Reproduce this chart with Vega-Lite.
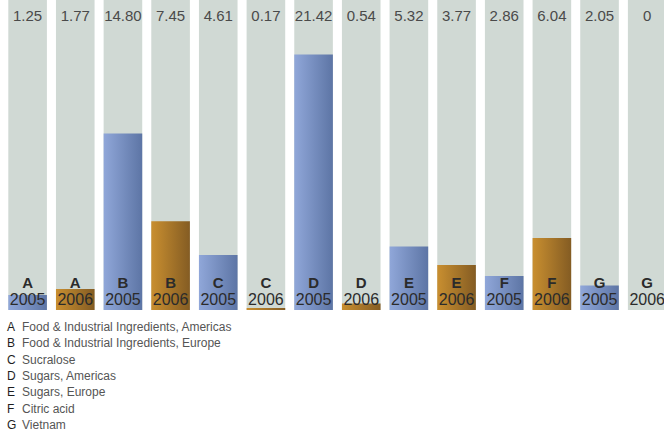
{
  "$schema": "https://vega.github.io/schema/vega-lite/v6.json",
  "width": 664,
  "height": 432,
  "padding": 0,
  "autosize": {"type": "none"},
  "config": {"view": {"stroke": null}, "font": "Liberation Sans"},
  "datasets": {
    "bars": [
      {"id": "A2005", "cat": "A", "year": 2005, "value": 1.25, "label": "1.25"},
      {"id": "A2006", "cat": "A", "year": 2006, "value": 1.77, "label": "1.77"},
      {"id": "B2005", "cat": "B", "year": 2005, "value": 14.80, "label": "14.80"},
      {"id": "B2006", "cat": "B", "year": 2006, "value": 7.45, "label": "7.45"},
      {"id": "C2005", "cat": "C", "year": 2005, "value": 4.61, "label": "4.61"},
      {"id": "C2006", "cat": "C", "year": 2006, "value": 0.17, "label": "0.17"},
      {"id": "D2005", "cat": "D", "year": 2005, "value": 21.42, "label": "21.42"},
      {"id": "D2006", "cat": "D", "year": 2006, "value": 0.54, "label": "0.54"},
      {"id": "E2005", "cat": "E", "year": 2005, "value": 5.32, "label": "5.32"},
      {"id": "E2006", "cat": "E", "year": 2006, "value": 3.77, "label": "3.77"},
      {"id": "F2005", "cat": "F", "year": 2005, "value": 2.86, "label": "2.86"},
      {"id": "F2006", "cat": "F", "year": 2006, "value": 6.04, "label": "6.04"},
      {"id": "G2005", "cat": "G", "year": 2005, "value": 2.05, "label": "2.05"},
      {"id": "G2006", "cat": "G", "year": 2006, "value": 0, "label": "0"}
    ],
    "legend": [
      {"letter": "A", "desc": "Food & Industrial Ingredients, Americas"},
      {"letter": "B", "desc": "Food & Industrial Ingredients, Europe"},
      {"letter": "C", "desc": "Sucralose"},
      {"letter": "D", "desc": "Sugars, Americas"},
      {"letter": "E", "desc": "Sugars, Europe"},
      {"letter": "F", "desc": "Citric acid"},
      {"letter": "G", "desc": "Vietnam"}
    ]
  },
  "layer": [
    {
      "data": {"name": "bars"},
      "encoding": {
        "x": {"field": "id", "type": "nominal", "sort": null, "axis": null,
              "scale": {"type": "band", "range": [8.3, 666.5], "paddingInner": 0.19, "paddingOuter": 0}}
      },
      "layer": [
        {
          "mark": {"type": "bar", "color": "#d0d9d4"},
          "encoding": {
            "y": {"datum": 26, "type": "quantitative", "axis": null, "scale": {"domain": [0, 26], "range": [310, 0]}},
            "y2": {"datum": 0}
          }
        },
        {
          "transform": [{"filter": "datum.year == 2005"}],
          "mark": {"type": "bar", "color": {"gradient": "linear", "x1": 0, "y1": 0, "x2": 1, "y2": 0,
            "stops": [{"offset": 0, "color": "#90a7d9"}, {"offset": 1, "color": "#5d75a5"}]}},
          "encoding": {"y": {"field": "value", "type": "quantitative"}}
        },
        {
          "transform": [{"filter": "datum.year == 2006"}],
          "mark": {"type": "bar", "color": {"gradient": "linear", "x1": 0, "y1": 0, "x2": 1, "y2": 0,
            "stops": [{"offset": 0, "color": "#c98f30"}, {"offset": 1, "color": "#845c23"}]}},
          "encoding": {"y": {"field": "value", "type": "quantitative"}}
        },
        {
          "mark": {"type": "text", "baseline": "middle", "fontSize": 15, "color": "#4a4a4a", "dy": 16},
          "encoding": {"y": {"datum": 26, "type": "quantitative"}, "text": {"field": "label"}}
        },
        {
          "mark": {"type": "text", "baseline": "middle", "fontSize": 15, "fontWeight": "bold", "color": "#2b2b2b", "dy": -27},
          "encoding": {"y": {"datum": 0, "type": "quantitative"}, "text": {"field": "cat"}}
        },
        {
          "mark": {"type": "text", "baseline": "middle", "fontSize": 16, "color": "#2b2b2b", "dy": -10},
          "encoding": {"y": {"datum": 0, "type": "quantitative"}, "text": {"field": "year"}}
        }
      ]
    },
    {
      "data": {"name": "legend"},
      "encoding": {
        "y": {"field": "letter", "type": "nominal", "sort": null, "axis": null,
              "scale": {"type": "band", "range": [318.85, 432.95], "paddingInner": 0, "paddingOuter": 0}}
      },
      "layer": [
        {
          "mark": {"type": "text", "align": "left", "baseline": "middle", "fontSize": 12, "color": "#1e1e1e"},
          "encoding": {"x": {"value": 7}, "text": {"field": "letter"}}
        },
        {
          "mark": {"type": "text", "align": "left", "baseline": "middle", "fontSize": 12, "color": "#555555"},
          "encoding": {"x": {"value": 22}, "text": {"field": "desc"}}
        }
      ]
    }
  ],
  "resolve": {"scale": {"y": "independent"}}
}
